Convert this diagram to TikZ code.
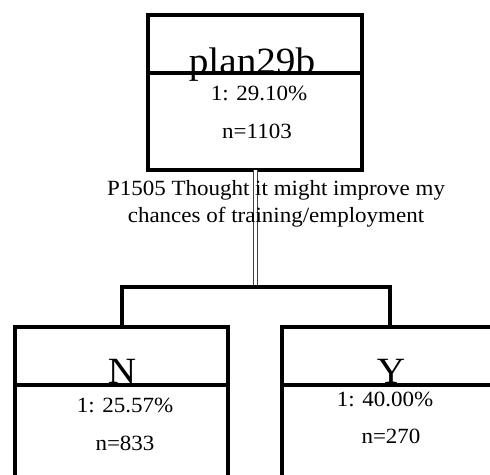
\documentclass[tikz,border=0pt]{standalone}
\usepackage{fontspec}
\setmainfont[FakeStretch=1.06]{Liberation Serif}
\tikzset{
  box/.style={draw, line width=4pt, outer sep=0pt, inner sep=0pt},
  rule/.style={line width=4pt},
  link/.style={draw=black!75, line width=1pt, double=white, double distance=3pt},
  title/.style={inner sep=0pt, anchor=base, font=\fontsize{37}{42}\selectfont},
  stat/.style={inner sep=0pt, anchor=base, font=\fontsize{21.7}{26}\selectfont},
  split/.style={inner sep=0pt, anchor=north, align=center, font=\fontsize{21.7}{27.5}\selectfont}
}

\begin{document}
\begin{tikzpicture}[x=1pt,y=-1pt]
		%%%%% START %%%%%
		\useasboundingbox (0,0) rectangle (490,474);
		\clip (0,0) rectangle (490,474);
		
		% root node
		\node[box, minimum width=214pt, minimum height=155pt] (root) at (255,92.5) {};
		\draw[rule] (root.north west) ++(0,58) -- ++(214,0);
		\node[title] (roottitle) at (252,73) {plan29b};
		\node[stat] (rootpct) at (259,100) {1: 29.10\%};
		\node[stat] (rootn) at (257,138) {n=1103};
		
		% children
		\node[box, minimum width=213pt, minimum height=200pt] (nochild) at (121.5,427) {};
		\draw[rule] (nochild.north west) ++(0,58) -- ++(213,0);
		\node[title] (notitle) at (122,383) {N};
		\node[stat] (nopct) at (125,412) {1: 25.57\%};
		\node[stat] (non) at (125,450) {n=833};
		
		\node[box, minimum width=216pt, minimum height=200pt] (yeschild) at (390,427) {};
		\draw[rule] (yeschild.north west) ++(0,58) -- ++(216,0);
		\node[title] (yestitle) at (391,383) {Y};
		\node[stat] (yespct) at (385,406) {1: 40.00\%};
		\node[stat] (yesn) at (391,443) {n=270};
		
		% connectors
		\coordinate (fork) at (255,287);
		\draw[link] (root.south) -- (fork);
		\draw[rule] (nochild.north) |- (fork) -| (yeschild.north);
		
		% split label
		\node[split] (rootsplit) at (276,180.2) {P1505 Thought it might improve my\\chances of training/employment};
		
		%%%%% END %%%%%
	\end{tikzpicture}
\end{document}
